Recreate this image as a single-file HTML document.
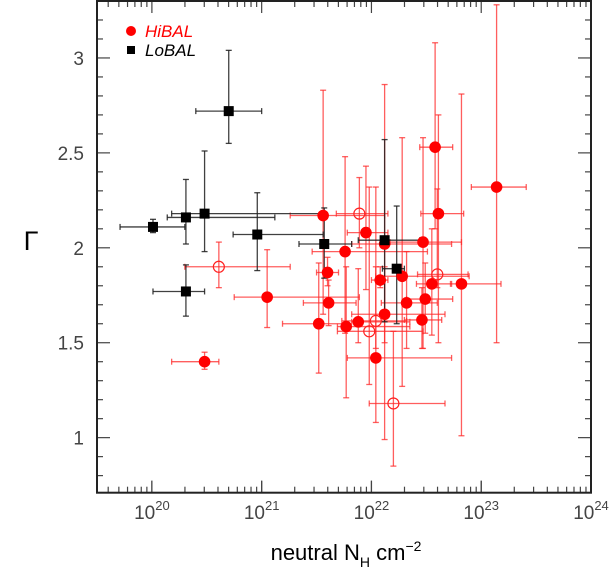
<!DOCTYPE html>
<html><head><meta charset="utf-8"><style>
html,body{margin:0;padding:0;background:#fff;}
svg{display:block;font-family:"Liberation Sans",sans-serif;}
</style></head><body>
<svg id="chart" width="611" height="573" viewBox="0 0 611 573" xmlns="http://www.w3.org/2000/svg">
<g id="axes"></g>
<g id="marks"></g>
<g>
 <circle cx="131" cy="31" r="5" fill="#ff0000"/>
 <text x="145" y="37" font-size="17" font-style="italic" fill="#ff0000">HiBAL</text>
 <rect x="127" y="46" width="8" height="8" fill="#000"/>
 <text x="145" y="56" font-size="17" font-style="italic" fill="#000">LoBAL</text>
</g>
<text x="31" y="250" font-size="27" fill="#000" text-anchor="middle">Γ</text>
<text x="346" y="560" font-size="22" fill="#000" text-anchor="middle">neutral N<tspan font-size="14" dy="7">H</tspan><tspan dy="-7"> cm</tspan><tspan font-size="14" dy="-9">−2</tspan></text>
</svg>
<script>
// LoBAL (log NH, Gamma)
const loX   = [20.01,20.31,20.48,20.96,20.31,20.70,21.57,22.12,22.23];
const loXlo = [19.71,20.14,20.18,20.74,20.01,20.40,21.34,21.88,22.10];
const loXhi = [20.30,21.12,21.56,21.56,20.48,21.00,21.82,22.44,22.30];
const loY   = [2.11,2.16,2.18,2.07,1.77,2.72,2.02,2.04,1.89];
const loYlo = [2.08,2.02,1.98,1.88,1.64,2.55,1.84,1.61,1.60];
const loYhi = [2.15,2.36,2.51,2.29,1.91,3.04,2.21,2.57,2.22];
// HiBAL filled
const hiX   = [20.48,21.05,21.56,21.95,22.47,22.12,21.76,21.60,22.08,22.28,22.55,22.82,21.61,22.32,22.49,22.12,22.46,21.52,21.77,21.88,22.61,22.58,23.14,22.04];
const hiXlo = [20.18,20.75,21.26,21.78,22.17,21.82,21.46,21.50,22.00,22.04,22.41,22.72,21.38,22.09,22.32,21.82,22.30,21.19,21.69,21.82,22.45,22.44,22.91,21.78];
const hiXhi = [20.61,21.89,22.12,22.15,22.82,22.73,22.51,21.70,22.15,22.89,22.73,23.18,21.86,22.60,22.74,22.67,22.64,21.76,22.35,22.35,22.84,22.74,23.41,22.73];
const hiY   = [1.40,1.74,2.17,2.08,2.03,2.02,1.98,1.87,1.83,1.85,1.81,1.81,1.71,1.71,1.73,1.65,1.62,1.60,1.585,1.61,2.18,2.53,2.32,1.42];
const hiYlo = [1.36,1.58,1.65,1.78,1.47,0.99,1.55,1.80,1.79,1.27,1.54,1.01,1.59,1.47,1.55,1.50,1.47,1.34,1.21,1.50,1.50,2.10,1.50,1.08];
const hiYhi = [1.45,1.99,2.83,2.43,2.58,2.86,2.48,1.95,1.90,2.58,2.10,2.81,1.83,1.98,1.92,1.90,1.79,1.92,1.90,1.89,2.70,3.08,3.28,2.32];
// HiBAL open
const opX   = [20.61,21.89,22.60,22.04,21.98,22.20];
const opXlo = [20.30,21.68,22.42,21.73,21.69,21.98];
const opXhi = [21.26,22.15,22.88,22.32,22.47,22.67];
const opY   = [1.90,2.18,1.86,1.615,1.56,1.18];
const opYlo = [1.79,2.00,1.79,1.47,1.28,0.85];
const opYhi = [2.03,2.37,2.31,1.90,2.32,1.56];
const xTicks = [20,21,22,23,24];
const yTicks = [1,1.5,2,2.5,3];
const yTickLabels = ["1","1.5","2","2.5","3"];

const L=97, R=591, T=1, B=492.7;
const X0=19.5, X1=24.0, Y0=0.71, Y1=3.30;
const sx = v => L + (v - X0) / (X1 - X0) * (R - L);
const sy = v => B - (v - Y0) / (Y1 - Y0) * (B - T);
const NS = "http://www.w3.org/2000/svg";
function mk(parent, tag, attrs){ const e=document.createElementNS(NS,tag); for(const k in attrs) e.setAttribute(k,attrs[k]); parent.appendChild(e); return e; }
const axes=document.getElementById('axes'), marks=document.getElementById('marks');

for(let d=19; d<24; d++){
  for(let m=1; m<10; m++){
    const v=d+Math.log10(m); if(v<X0-1e-6||v>X1+1e-6) continue;
    const len = m===1?12:6;
    const x=sx(v);
    const t1=mk(axes,'line',{x1:x,x2:x,y1:B,y2:B-len,stroke:'#444','stroke-width':1.2});
    
    
    const t2=mk(axes,'line',{x1:x,x2:x,y1:T,y2:T+len,stroke:'#444','stroke-width':1.2});
    
    
  }
}
xTicks.forEach(v=>{
  const x=sx(v);
  const t1=mk(axes,'line',{x1:x,x2:x,y1:B,y2:B-12,stroke:'#444','stroke-width':1.2});
  
  
  const tx=mk(axes,'text',{x:x,y:519,'font-size':19,fill:'#444','text-anchor':'middle'});
  
  
  tx.innerHTML='10<tspan font-size="13" dy="-9">'+v+'</tspan>';
});
for(let i=8;i<=33;i++){
  const v=i/10, y=sy(v), major=(i%5===0);
  const len=major?13:6;
  const a=mk(axes,'line',{x1:L,x2:L+len,y1:y,y2:y,stroke:'#444','stroke-width':1.2});
  
  
  const b=mk(axes,'line',{x1:R,x2:R-len,y1:y,y2:y,stroke:'#444','stroke-width':1.2});
  
  
}
yTicks.forEach((v,i)=>{
  const t=mk(axes,'text',{x:84,y:sy(v)+7,'font-size':19,fill:'#444','text-anchor':'end'});
  
  
  t.textContent=yTickLabels[i];
});
const fr=mk(axes,'rect',{x:L,y:T,width:R-L,height:B-T,fill:'none',stroke:'#222','stroke-width':2});



function errbar(x,xlo,xhi,y,ylo,yhi,col,name){
  const g=mk(marks,'g',{stroke:col,'stroke-width':1.3,fill:'none'});
  
  
  const c=3;
  mk(g,'line',{x1:sx(xlo),x2:sx(xhi),y1:sy(y),y2:sy(y)});
  mk(g,'line',{x1:sx(xlo),x2:sx(xlo),y1:sy(y)-c,y2:sy(y)+c});
  mk(g,'line',{x1:sx(xhi),x2:sx(xhi),y1:sy(y)-c,y2:sy(y)+c});
  mk(g,'line',{x1:sx(x),x2:sx(x),y1:sy(ylo),y2:sy(yhi)});
  mk(g,'line',{x1:sx(x)-c,x2:sx(x)+c,y1:sy(ylo),y2:sy(ylo)});
  mk(g,'line',{x1:sx(x)-c,x2:sx(x)+c,y1:sy(yhi),y2:sy(yhi)});
}
const RED='rgba(255,40,40,0.75)', BLK='rgba(30,30,30,0.85)';
hiX.forEach((v,i)=>errbar(v,hiXlo[i],hiXhi[i],hiY[i],hiYlo[i],hiYhi[i],RED,'hibal-errorbar'));
opX.forEach((v,i)=>errbar(v,opXlo[i],opXhi[i],opY[i],opYlo[i],opYhi[i],RED,'hibal-open-errorbar'));
loX.forEach((v,i)=>errbar(v,loXlo[i],loXhi[i],loY[i],loYlo[i],loYhi[i],BLK,'lobal-errorbar'));
hiX.forEach((v,i)=>{
  const c=mk(marks,'circle',{cx:sx(v),cy:sy(hiY[i]),r:5.8,fill:'#ff0000'});
  
  
});
opX.forEach((v,i)=>{
  const c=mk(marks,'circle',{cx:sx(v),cy:sy(opY[i]),r:5.5,fill:'none',stroke:'#ff2020','stroke-width':1.2});
  
  
});
loX.forEach((v,i)=>{
  const r=mk(marks,'rect',{x:sx(v)-5,y:sy(loY[i])-5,width:10,height:10,fill:'#000'});
  
  
});
</script>
</body></html>
